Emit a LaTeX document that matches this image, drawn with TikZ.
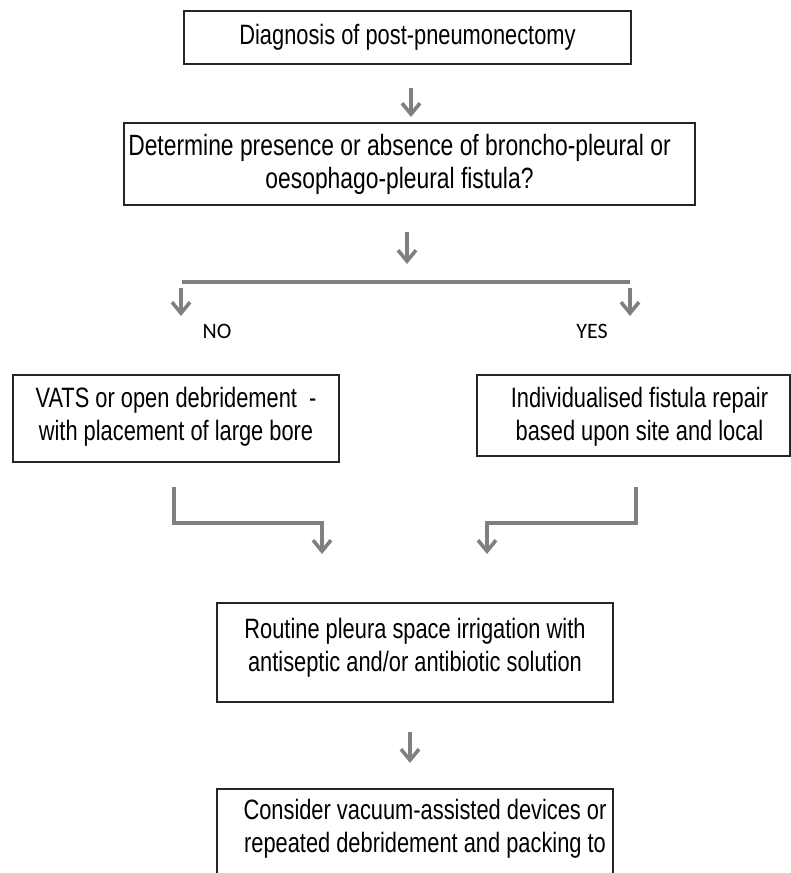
\documentclass[tikz,border=0pt]{standalone}
\usepackage{fontspec}
\setmainfont{Liberation Sans}[FakeStretch=0.78]
\newfontfamily\labfont{Carlito}
\usetikzlibrary{positioning,arrows.meta,calc}

\begin{document}
\begin{tikzpicture}[x=1pt,y=-1pt,
	boxx/.style={draw=black!85,line width=1.6pt,inner sep=0pt},
	txt/.style={align=center,inner sep=0pt,font=\fontsize{28}{33}\selectfont},
	garr/.style={draw=black!50,line width=3.6pt,-{Straight Barb[length=11pt,width=18pt]}},
	lab/.style={inner sep=0pt,font=\labfont\fontsize{22}{24}\selectfont}]
	\useasboundingbox (0,0) rectangle (791,873);
	\clip (0,0) rectangle (791,873);
	% boxes
	\node[boxx,minimum width=447pt,minimum height=53pt] (diag) at (407.5,37.5) {};
	\node[boxx,minimum width=571pt,minimum height=82pt] (fist) at (409.5,164) {};
	\node[boxx,minimum width=326pt,minimum height=87pt] (vats) at (176,418.5) {};
	\node[boxx,minimum width=313pt,minimum height=81pt] (repair) at (633.5,415.5) {};
	\node[boxx,minimum width=396pt,minimum height=99pt] (irrig) at (415,652.5) {};
	\node[boxx,minimum width=396pt,minimum height=130pt] (vac) at (415,854) {};
	% texts
	\node[txt] (diagt) at (diag.center) {Diagnosis of post-pneumonectomy};
	\node[txt,font=\fontsize{29.3}{33}\selectfont,below=12pt of fist.north,xshift=-10pt] (fistt) {Determine presence or absence of broncho-pleural or\\oesophago-pleural fistula?};
	\node[txt,below=13pt of vats.north] (vatst) {VATS or open debridement\ \ -\\with placement of large bore};
	\node[txt,below=13pt of repair.north,xshift=6pt] (repairt) {Individualised fistula repair\\based upon site and local};
	\node[txt,below=16pt of irrig.north] (irrigt) {Routine pleura space irrigation with\\antiseptic and/or antibiotic solution};
	\node[txt,below=11pt of vac.north,xshift=10pt] (vact) {Consider vacuum-assisted devices or\\repeated debridement and packing to};
	\node[lab] (no) at (217,331) {NO};
	\node[lab] (yes) at (592,331) {YES};
	% arrow ends
	\coordinate (a1s) at (411,88);
	\coordinate (a1e) at (411,117);
	\coordinate (a2s) at (407,232);
	\coordinate (a2e) at (407,264);
	\coordinate (hl) at (182,282);
	\coordinate (hr) at (630,282);
	\coordinate (nos) at (181,288);
	\coordinate (noe) at (181,316);
	\coordinate (yess) at (630,288);
	\coordinate (yese) at (630,316);
	\coordinate (ls) at (174,487);
	\coordinate (le) at (322,554);
	\coordinate (rs) at (636,487);
	\coordinate (re) at (487,554);
	\coordinate (a5s) at (410,732);
	\coordinate (a5e) at (410,763);
	% connectors
	\draw[garr] (a1s) -- (a1e);
	\draw[garr] (a2s) -- (a2e);
	\draw[draw=black!50,line width=4pt] (hl) -- (hr);
	\draw[garr] (nos) -- (noe);
	\draw[garr] (yess) -- (yese);
	\draw[garr] (ls) -- ++(0,36) -| (le);
	\draw[garr] (rs) -- ++(0,36) -| (re);
	\draw[garr] (a5s) -- (a5e);
\end{tikzpicture}
\end{document}
